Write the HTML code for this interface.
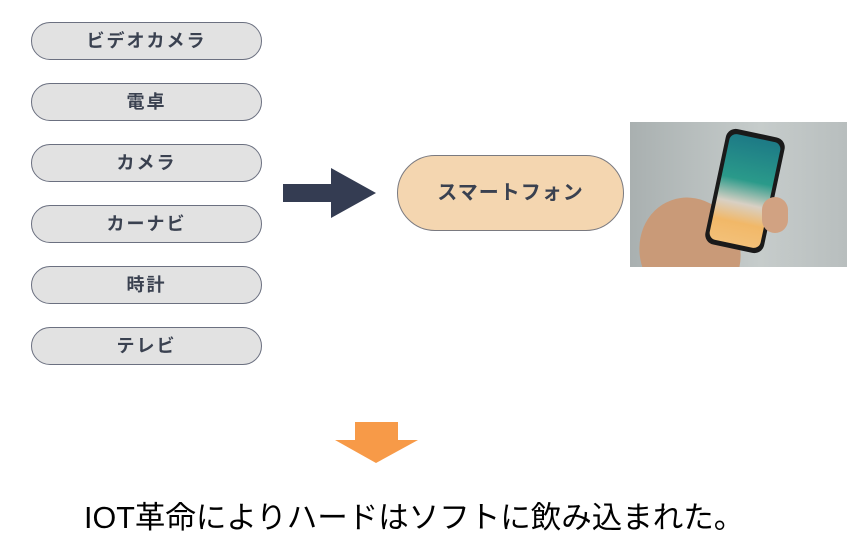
<!DOCTYPE html>
<html><head><meta charset="utf-8"><style>
body{margin:0;width:866px;height:556px;background:#fff;position:relative;overflow:hidden;font-family:"Liberation Sans","Noto Sans CJK JP",sans-serif}
.p{position:absolute;left:31px;width:229px;height:36px;border:1.5px solid #6b7080;border-radius:19px;background:#e2e2e2;color:#3a4150;font-weight:bold;font-size:18px;text-align:center;line-height:36px;letter-spacing:2px}
</style></head><body>
<div class="p" style="top:22px">ビデオカメラ</div>
<div class="p" style="top:83px">電卓</div>
<div class="p" style="top:144px">カメラ</div>
<div class="p" style="top:205px">カーナビ</div>
<div class="p" style="top:266px">時計</div>
<div class="p" style="top:327px">テレビ</div>
<svg style="position:absolute;left:0;top:0" width="866" height="556">
<polygon points="283,184 331,184 331,168 376,193 331,218 331,202 283,202" fill="#343c52"/>
<polygon points="355,422 398,422 398,440 418,440 376,463 335,440 355,440" fill="#f79a48"/>
</svg>
<div style="position:absolute;left:397px;top:155px;width:225px;height:74px;border:1.5px solid #7a7a80;border-radius:38px;background:#f4d6b0;color:#3a4150;font-weight:bold;font-size:20px;text-align:center;line-height:74px;letter-spacing:1px">スマートフォン</div>
<div style="position:absolute;left:630px;top:122px;width:217px;height:145px;background:linear-gradient(90deg,#a9b0b0,#c6cccb 60%,#b8bebe);overflow:hidden">
<div style="position:absolute;left:10px;top:75px;width:100px;height:110px;border-radius:50%;background:#c99a78;transform:rotate(-20deg)"></div>
<div style="position:absolute;left:85px;top:10px;width:60px;height:118px;border-radius:10px;background:#1a1a1a;transform:rotate(12deg)">
<div style="position:absolute;left:4px;top:5px;right:4px;bottom:5px;border-radius:7px;background:linear-gradient(180deg,#1d7a86,#2a9a8a 40%,#d8d0c4 62%,#f1b868 80%,#f3c078)"></div></div>
<div style="position:absolute;left:132px;top:75px;width:26px;height:36px;border-radius:13px;background:#d1a282"></div>
</div>
<div style="position:absolute;left:84px;top:493px;font-size:30.5px;color:#000;white-space:nowrap">IOT革命によりハードはソフトに飲み込まれた。</div>
</body></html>
